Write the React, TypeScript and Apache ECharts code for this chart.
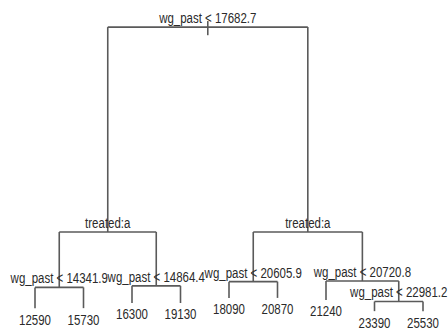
import React, { useEffect, useRef } from "react";
import * as echarts from "echarts";

// Tree structure (rpart-style node numbering: children of n are 2n and 2n+1)
const splitIds = [1, 2, 4, 5, 3, 6, 7, 15];
const splitLabels = [
  "wg_past < 17682.7",
  "treated:a",
  "wg_past < 14341.9",
  "wg_past < 14864.4",
  "treated:a",
  "wg_past < 20605.9",
  "wg_past < 20720.8",
  "wg_past < 22981.2",
];
const splitHeights = [100, 31.9, 13.5, 14.0, 31.9, 15.4, 15.6, 8.8];

const leafIds = [8, 9, 10, 11, 12, 13, 14, 30, 31];
const leafValues = [12590, 15730, 16300, 19130, 18090, 20870, 21240, 23390, 25530];
const leafHeights = [6.6, 6.6, 8.3, 8.3, 10.0, 10.0, 9.3, 5.6, 5.6];

const FONT = '"Liberation Sans", Arial, sans-serif';
const LINE_COLOR = "#5a5a5a";
const TEXT_COLOR = "#2a2a2a";

function xOf(id: number): number {
  const li = leafIds.indexOf(id);
  if (li >= 0) return li + 1;
  return (xOf(2 * id) + xOf(2 * id + 1)) / 2;
}
function hOf(id: number): number {
  const li = leafIds.indexOf(id);
  if (li >= 0) return leafHeights[li];
  return splitHeights[splitIds.indexOf(id)];
}

export default function App() {
  const ref = useRef<HTMLDivElement>(null);
  useEffect(() => {
    if (!ref.current) return;
    const chart = echarts.init(ref.current, null, { renderer: "svg" });

    const segments: number[][] = [];
    splitIds.forEach((id) => {
      const h = hOf(id);
      const l = 2 * id;
      const r = 2 * id + 1;
      segments.push([xOf(l), h, xOf(r), h]);
      segments.push([xOf(l), h, xOf(l), hOf(l)]);
      segments.push([xOf(r), h, xOf(r), hOf(r)]);
    });
    // root stem
    segments.push([xOf(1), hOf(1) + 2, xOf(1), hOf(1) - 2.7]);

    const splitData = splitIds.map((id) => [xOf(id), hOf(id)]);
    const leafData = leafIds.map((id) => [xOf(id), hOf(id)]);

    const textItem = (labels: string[], dy: number) => (params: any, api: any) => {
      const p = api.coord([api.value(0), api.value(1)]);
      return {
        type: "text",
        x: p[0],
        y: p[1] + dy,
        scaleX: 0.82,
        style: {
          text: labels[params.dataIndex],
          fontFamily: FONT,
          fontSize: 14,
          align: "center",
          verticalAlign: "middle",
          fill: TEXT_COLOR,
        },
      };
    };

    chart.setOption({
      animation: false,
      grid: { left: 35, right: 25, top: 0, bottom: 0 },
      xAxis: { type: "value", min: 1, max: 9, show: false },
      yAxis: { type: "value", min: 0, max: 109, show: false },
      series: [
        {
          type: "custom",
          clip: false,
          encode: { x: [0, 2], y: [1, 3] },
          data: segments,
          renderItem: (params: any, api: any) => {
            const a = api.coord([api.value(0), api.value(1)]);
            const b = api.coord([api.value(2), api.value(3)]);
            return {
              type: "line",
              shape: { x1: a[0], y1: a[1], x2: b[0], y2: b[1] },
              style: { stroke: LINE_COLOR, lineWidth: 1.6 },
            };
          },
        },
        {
          type: "custom",
          clip: false,
          encode: { x: 0, y: 1 },
          data: splitData,
          renderItem: textItem(splitLabels, -9),
        },
        {
          type: "custom",
          clip: false,
          encode: { x: 0, y: 1 },
          data: leafData,
          renderItem: textItem(leafValues.map(String), 11.5),
        },
      ],
    });
    return () => chart.dispose();
  }, []);
  return (
    <div
      ref={ref}
      style={{ position: "fixed", left: 0, top: 0, width: 448, height: 328, background: "#fff" }}
    />
  );
}
